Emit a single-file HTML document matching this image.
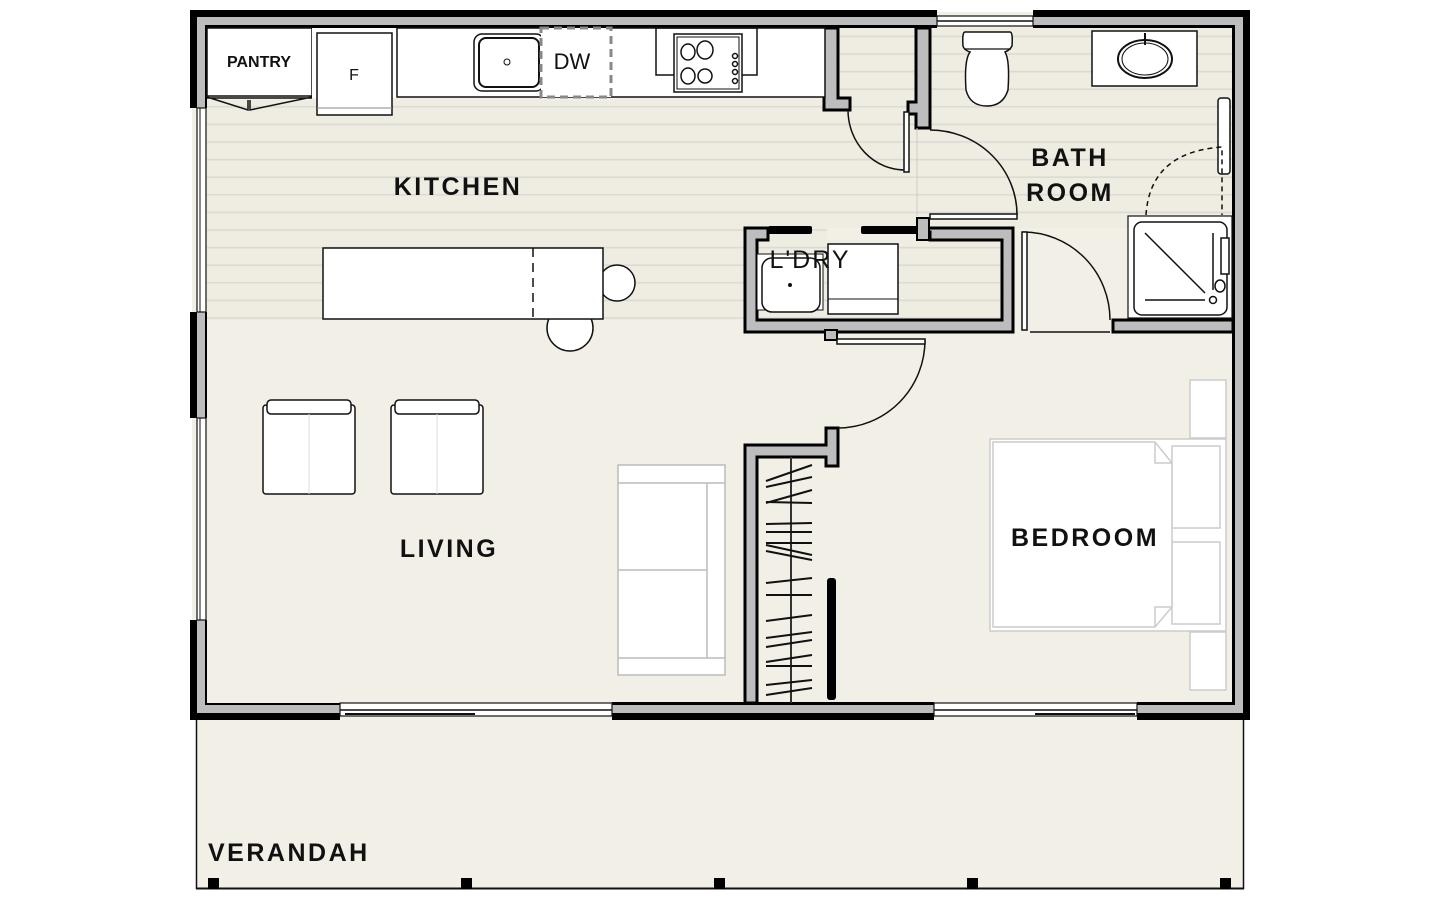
<!DOCTYPE html>
<html><head><meta charset="utf-8"><style>
html,body{margin:0;padding:0;background:#fff;width:1440px;height:900px;overflow:hidden}
svg{display:block}
text{font-family:"Liberation Sans",sans-serif;font-weight:bold;fill:#111}
</style></head><body>
<svg width="1440" height="900" viewBox="0 0 1440 900" xmlns="http://www.w3.org/2000/svg">
<defs>
<pattern id="stripes" width="10" height="17.6" patternUnits="userSpaceOnUse" y="2">
<rect width="10" height="17.6" fill="#efece2"/>
<rect y="16" width="10" height="1.6" fill="#dcdad4"/>
</pattern>
</defs>
<rect x="196" y="718" width="1048" height="171" fill="#f2f0e6"/>
<line x1="196.5" y1="718" x2="196.5" y2="889" stroke="#111" stroke-width="1.5"/>
<line x1="1243.5" y1="718" x2="1243.5" y2="889" stroke="#111" stroke-width="1.5"/>
<line x1="196" y1="888.5" x2="1244" y2="888.5" stroke="#111" stroke-width="2"/>
<g fill="#000"><rect x="208" y="878" width="11" height="11"/><rect x="461" y="878" width="11" height="11"/><rect x="714" y="878" width="11" height="11"/><rect x="967" y="878" width="11" height="11"/><rect x="1220" y="878" width="11" height="11"/></g>
<rect x="192" y="12" width="1056" height="706" fill="#f2f0e6"/>
<rect x="207" y="100" width="620" height="220" fill="url(#stripes)"/>
<rect x="827" y="28" width="406" height="200" fill="url(#stripes)"/>
<rect x="757" y="240" width="245" height="80" fill="url(#stripes)"/>
<g>
<rect x="190" y="10" width="747" height="7" fill="#000"/><rect x="190" y="17" width="747" height="8" fill="#bdbdbd"/><rect x="205" y="25" width="732" height="3" fill="#000"/>
<rect x="1033" y="10" width="217" height="7" fill="#000"/><rect x="1033" y="17" width="210" height="8" fill="#bdbdbd"/><rect x="1033" y="25" width="202" height="3" fill="#000"/>
<rect x="937" y="16" width="96" height="10" fill="#fff" stroke="#111" stroke-width="1.2"/>
<line x1="937" y1="21" x2="1033" y2="21" stroke="#111" stroke-width="1.5"/>
<rect x="1243" y="10" width="7" height="710" fill="#000"/><rect x="1235" y="25" width="8" height="688" fill="#bdbdbd"/><rect x="1232" y="25" width="3" height="680" fill="#000"/>
<rect x="190" y="10" width="7" height="98" fill="#000"/><rect x="197" y="17" width="8" height="91" fill="#bdbdbd"/><rect x="205" y="25" width="2" height="83" fill="#000"/>
<rect x="190" y="312" width="7" height="106" fill="#000"/><rect x="197" y="312" width="8" height="106" fill="#bdbdbd"/><rect x="205" y="312" width="2" height="106" fill="#000"/>
<rect x="190" y="620" width="7" height="100" fill="#000"/><rect x="197" y="620" width="8" height="93" fill="#bdbdbd"/><rect x="205" y="620" width="2" height="85" fill="#000"/>
<rect x="197" y="108" width="9" height="204" fill="#fff" stroke="#111" stroke-width="1.2"/>
<rect x="197" y="418" width="9" height="202" fill="#fff" stroke="#111" stroke-width="1.2"/>
<line x1="200" y1="108" x2="200" y2="312" stroke="#111"/><line x1="200" y1="418" x2="200" y2="620" stroke="#111"/>
<rect x="190" y="713" width="150" height="7" fill="#000"/><rect x="197" y="705" width="143" height="8" fill="#bdbdbd"/><rect x="205" y="703" width="135" height="2" fill="#000"/>
<rect x="612" y="713" width="322" height="7" fill="#000"/><rect x="612" y="705" width="322" height="8" fill="#bdbdbd"/><rect x="612" y="702" width="322" height="3" fill="#000"/>
<rect x="1137" y="713" width="113" height="7" fill="#000"/><rect x="1137" y="705" width="98" height="8" fill="#bdbdbd"/><rect x="1137" y="702" width="98" height="3" fill="#000"/>
<rect x="340" y="703" width="272" height="13" fill="#fff" stroke="#111" stroke-width="1.2"/>
<line x1="340" y1="710" x2="612" y2="710" stroke="#111" stroke-width="1.5"/><line x1="345" y1="714" x2="475" y2="714" stroke="#111" stroke-width="2"/>
<rect x="934" y="703" width="203" height="13" fill="#fff" stroke="#111" stroke-width="1.2"/>
<line x1="934" y1="710" x2="1137" y2="710" stroke="#111" stroke-width="1.5"/><line x1="1035" y1="714" x2="1135" y2="714" stroke="#111" stroke-width="2"/>
</g>
<path d="M824,28 V110 H850 V98 H838 V28 Z" fill="#bdbdbd" stroke="#000" stroke-width="3"/>
<path d="M916,28 V102 H908 V114 H916 V128 H930 V28 Z" fill="#bdbdbd" stroke="#000" stroke-width="3"/>
<path d="M745,228 H768 V240 H757 V320 H1002 V240 H930 V232 H920 V228 H1013 V332 H745 Z" fill="#bdbdbd" stroke="#000" stroke-width="3"/>
<rect x="768" y="226" width="44" height="8" rx="2" fill="#000"/><rect x="861" y="226" width="60" height="8" rx="2" fill="#000"/>
<rect x="917" y="218" width="12" height="22" fill="#bdbdbd" stroke="#000" stroke-width="2"/>
<rect x="825" y="330" width="12" height="10" fill="#bdbdbd" stroke="#000" stroke-width="2"/>
<rect x="1113" y="320" width="120" height="12" fill="#bdbdbd" stroke="#000" stroke-width="3"/>
<path d="M745,703 V445 H826 V428 H838 V466 H826 V457 H757 V703 Z" fill="#bdbdbd" stroke="#000" stroke-width="3"/>
<rect x="827" y="578" width="9" height="122" rx="3" fill="#000"/>
<line x1="791" y1="457" x2="791" y2="703" stroke="#333" stroke-width="2"/>
<g stroke="#111" stroke-width="2">
<path d="M766,481 L812,465 M766,487 L812,477 M766,503 L812,490 M766,502 L812,503 M766,524 L812,523 M766,532 L812,532 M766,543 L812,543 M766,551 L812,560 M766,545 L812,555 M766,583 L812,578 M766,595 L812,595 M766,621 L812,615 M766,638 L812,632 M766,647 L812,640 M766,662 L812,655 M766,666 L812,666 M766,695 L812,688 M766,685 L812,680"/>
</g>
<rect x="207" y="28" width="105" height="68" fill="#fff" stroke="#111" stroke-width="1.5"/>
<path d="M207,97 L248,110 L248,100 M312,97 L250,110 L250,100 M207,98 L312,98" fill="none" stroke="#111" stroke-width="1.5"/>
<rect x="312" y="28" width="85" height="70" fill="#fff" stroke="none"/>
<rect x="317" y="33" width="75" height="82" fill="#fff" stroke="#111" stroke-width="1.5"/>
<line x1="317" y1="108" x2="392" y2="108" stroke="#888"/>
<rect x="397" y="28" width="428" height="69" fill="#fff" stroke="#111" stroke-width="1.5"/>
<rect x="474" y="34" width="70" height="57" rx="8" fill="#fff" stroke="#111" stroke-width="1.5"/>
<rect x="479" y="38" width="60" height="49" rx="7" fill="none" stroke="#111" stroke-width="2"/>
<circle cx="507" cy="62" r="3" fill="none" stroke="#111"/>
<rect x="541" y="28" width="70" height="69" fill="#fff" stroke="#888" stroke-width="3" stroke-dasharray="8,5"/>
<rect x="656" y="28" width="101" height="47" fill="none" stroke="#111" stroke-width="1.5"/>
<rect x="674" y="34" width="68" height="58" fill="#fff" stroke="#111" stroke-width="1.5"/>
<rect x="677" y="37" width="62" height="52" fill="none" stroke="#111" stroke-width="1"/>
<g fill="none" stroke="#111" stroke-width="1.5"><ellipse cx="688" cy="52" rx="7" ry="8"/><ellipse cx="705" cy="50" rx="8" ry="9"/><ellipse cx="688" cy="76" rx="7" ry="8"/><ellipse cx="705" cy="76" rx="7" ry="7"/><circle cx="735" cy="56" r="2.5"/><circle cx="735" cy="64" r="2.5"/><circle cx="735" cy="72" r="2.5"/><circle cx="735" cy="81" r="2.5"/></g>
<circle cx="617" cy="283" r="18" fill="#fff" stroke="#111" stroke-width="1.5"/>
<circle cx="570" cy="328" r="23" fill="#fff" stroke="#111" stroke-width="1.5"/>
<rect x="323" y="248" width="280" height="71" fill="#fff" stroke="#111" stroke-width="1.5"/>
<line x1="533" y1="248" x2="533" y2="319" stroke="#111" stroke-width="1.5" stroke-dasharray="9,6"/>
<rect x="757" y="254" width="66" height="56" fill="#fff" stroke="#111" stroke-width="1"/>
<rect x="762" y="258" width="58" height="54" rx="10" fill="#fff" stroke="#111" stroke-width="1.5"/>
<circle cx="790" cy="285" r="2" fill="#111"/>
<rect x="828" y="244" width="70" height="70" fill="#fff" stroke="#111" stroke-width="1.5"/>
<line x1="828" y1="299" x2="898" y2="299" stroke="#111" stroke-width="1"/>
<path d="M965,32 H1010 Q1013,32 1012,46 Q1010,50 1005,52 Q1010,60 1008,90 Q1003,106 987,106 Q970,106 966,90 Q964,60 970,52 Q964,50 963,46 Q962,32 965,32 Z" fill="#fff" stroke="#111" stroke-width="1.5"/>
<path d="M964,49 H1011" stroke="#111" stroke-width="1.2"/>
<rect x="1092" y="31" width="105" height="55" fill="#fff" stroke="#111" stroke-width="1.5"/>
<ellipse cx="1145" cy="59" rx="27" ry="19" fill="#fff" stroke="#111" stroke-width="2"/>
<ellipse cx="1145" cy="59" rx="23" ry="16" fill="none" stroke="#111" stroke-width="1"/>
<line x1="1145" y1="33" x2="1145" y2="45" stroke="#111" stroke-width="2"/>
<rect x="1218" y="98" width="12" height="76" rx="3" fill="#fff" stroke="#111" stroke-width="1.5"/>
<path d="M1146,215 Q1150,152 1222,147 V215" fill="none" stroke="#111" stroke-width="1.5" stroke-dasharray="5,4"/>
<rect x="1128" y="216" width="104" height="102" fill="#fff" stroke="#111" stroke-width="1.2"/>
<rect x="1134" y="222" width="93" height="93" rx="8" fill="#fff" stroke="#111" stroke-width="1.5"/>
<line x1="1145" y1="233" x2="1205" y2="293" stroke="#111" stroke-width="1.5"/>
<line x1="1145" y1="300" x2="1205" y2="300" stroke="#111" stroke-width="1.5"/>
<circle cx="1213" cy="300" r="3.5" fill="none" stroke="#111" stroke-width="1.5"/>
<line x1="1213" y1="233" x2="1213" y2="290" stroke="#111" stroke-width="1.5"/>
<rect x="1221" y="238" width="8" height="36" fill="#fff" stroke="#111" stroke-width="1.5"/>
<ellipse cx="1220" cy="286" rx="5" ry="6" fill="#fff" stroke="#111" stroke-width="1.5"/>
<g fill="none" stroke="#111" stroke-width="1.5">
<path d="M848,110 A57,60 0 0 0 905,170"/>
<rect x="904" y="112" width="5" height="60" fill="#fff"/>
<line x1="917" y1="128" x2="917" y2="216" stroke="#ccc" stroke-width="1"/>
<path d="M930,130 A87,85 0 0 1 1017,215"/>
<rect x="930" y="214" width="87" height="5" fill="#fff"/>
<path d="M1023,232 A87,88 0 0 1 1110,320"/>
<rect x="1022" y="232" width="5" height="98" fill="#fff"/>
<line x1="1030" y1="332" x2="1110" y2="332"/>
<path d="M925,340 A87,88 0 0 1 838,428"/>
<rect x="837" y="339" width="88" height="5" fill="#fff"/>
</g>
<g fill="#fff" stroke="#111" stroke-width="1.5">
<rect x="263" y="405" width="92" height="89" rx="3"/><rect x="267" y="400" width="84" height="14" rx="4"/>
<rect x="391" y="405" width="92" height="89" rx="3"/><rect x="395" y="400" width="84" height="14" rx="4"/>
</g>
<line x1="309" y1="414" x2="309" y2="494" stroke="#ddd"/><line x1="437" y1="414" x2="437" y2="494" stroke="#ddd"/>
<g fill="#fff" stroke="#bbb" stroke-width="1.5">
<rect x="618" y="465" width="107" height="210"/>
<line x1="618" y1="483" x2="725" y2="483"/><line x1="618" y1="658" x2="725" y2="658"/>
<line x1="707" y1="483" x2="707" y2="658"/><line x1="618" y1="570" x2="707" y2="570"/>
</g>
<g fill="#fff" stroke="#ccc" stroke-width="1.5">
<rect x="1190" y="380" width="36" height="58"/><rect x="1190" y="632" width="36" height="58"/>
<rect x="990" y="439" width="236" height="192"/>
<rect x="1172" y="446" width="48" height="82"/><rect x="1172" y="542" width="48" height="82"/>
<path d="M993,442 H1155 L1172,463 V607 L1155,627 H993 Z"/>
<path d="M1155,442 V463 H1172 M1155,627 V607 H1172" fill="none"/>
</g>
<text x="259" y="67" font-size="16" text-anchor="middle">PANTRY</text>
<text x="354" y="80" font-size="16" text-anchor="middle" style="font-weight:normal">F</text>
<text x="572" y="69" font-size="22" text-anchor="middle" style="font-weight:normal">DW</text>
<text x="458" y="195" font-size="25" text-anchor="middle" letter-spacing="2.5">KITCHEN</text>
<text x="1070" y="166" font-size="25" text-anchor="middle" letter-spacing="2.5">BATH</text>
<text x="1070" y="201" font-size="25" text-anchor="middle" letter-spacing="2.5">ROOM</text>
<text x="810" y="268" font-size="25" text-anchor="middle" letter-spacing="2" style="font-weight:normal">L'DRY</text>
<text x="449" y="557" font-size="25" text-anchor="middle" letter-spacing="2.5">LIVING</text>
<text x="1085" y="546" font-size="25" text-anchor="middle" letter-spacing="2.5">BEDROOM</text>
<text x="208" y="861" font-size="25" letter-spacing="2.5">VERANDAH</text>
</svg>
</body></html>
